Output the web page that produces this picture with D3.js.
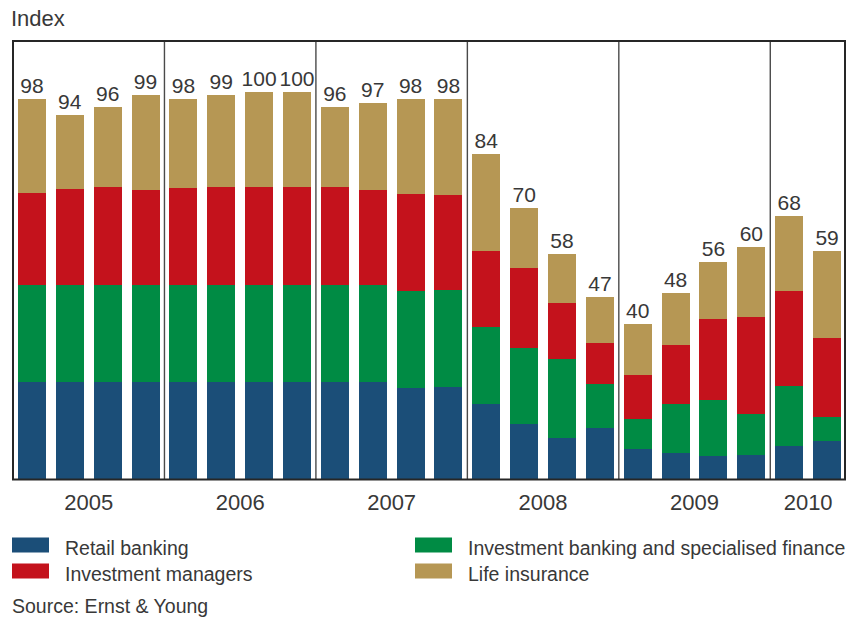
<!DOCTYPE html>
<html>
<head>
<meta charset="utf-8">
<script src="https://cdn.jsdelivr.net/npm/d3@7"></script>
<style>
  html, body { margin: 0; padding: 0; background: #ffffff; }
  svg { display: block; }
  text { font-family: "Liberation Sans", Arial, Helvetica, sans-serif; fill: #383838; }
</style>
</head>
<body>
<svg id="chart" width="850" height="619"></svg>
<script>
// Quarterly index by sector, 2005 Q1 – 2010 Q2
const years = ["2005", "2006", "2007", "2008", "2009", "2010"];
const quarterCounts = [4, 4, 4, 4, 4, 2];
const periods = [
  "2005 Q1", "2005 Q2", "2005 Q3", "2005 Q4",
  "2006 Q1", "2006 Q2", "2006 Q3", "2006 Q4",
  "2007 Q1", "2007 Q2", "2007 Q3", "2007 Q4",
  "2008 Q1", "2008 Q2", "2008 Q3", "2008 Q4",
  "2009 Q1", "2009 Q2", "2009 Q3", "2009 Q4",
  "2010 Q1", "2010 Q2"
];
const retailBanking = [25.2, 25.2, 25.2, 25.2, 25.2, 25.2, 25.2, 25.2, 25.2, 25.2, 23.5, 23.8, 19.4, 14.3, 10.7, 13.2, 7.8, 6.8, 6.0, 6.3, 8.6, 9.9];
const investmentBanking = [24.9, 24.9, 24.9, 24.9, 24.9, 24.9, 24.9, 24.9, 24.9, 24.9, 25.0, 25.0, 19.9, 19.6, 20.3, 11.4, 7.7, 12.7, 14.4, 10.5, 15.4, 6.2];
const investmentManagers = [23.7, 24.7, 25.3, 24.5, 25.0, 25.3, 25.3, 25.2, 25.2, 24.5, 25.0, 24.5, 19.5, 20.6, 14.4, 10.5, 11.4, 15.1, 20.9, 25.0, 24.5, 20.3];
const lifeInsurance = [24.2, 19.2, 20.6, 24.4, 22.9, 23.6, 24.6, 24.7, 20.7, 22.4, 24.5, 24.7, 25.2, 15.5, 12.6, 11.9, 13.1, 13.4, 14.7, 18.2, 19.5, 22.6];
const totals = [98, 94, 96, 99, 98, 99, 100, 100, 96, 97, 98, 98, 84, 70, 58, 47, 40, 48, 56, 60, 68, 59];

const seriesKeys = ["retail", "ibsf", "managers", "life"];
const seriesNames = ["Retail banking", "Investment banking and specialised finance", "Investment managers", "Life insurance"];
const seriesColors = ["#1b4e78", "#008b44", "#c4121c", "#b69754"];

const rows = periods.map((p, i) => ({
  period: p,
  retail: retailBanking[i],
  ibsf: investmentBanking[i],
  managers: investmentManagers[i],
  life: lifeInsurance[i],
  total: totals[i]
}));

const svg = d3.select("#chart");

const plot = { left: 13, right: 845, top: 41, bottom: 479.5 };

const x = d3.scaleBand()
  .domain(periods)
  .range([plot.left, plot.right + 1])
  .paddingInner(0.26)
  .paddingOuter(0.13);

const y = d3.scaleLinear()
  .domain([0, 100])
  .range([plot.bottom, 91.5]);

const color = d3.scaleOrdinal().domain(seriesKeys).range(seriesColors);

const stacked = d3.stack().keys(seriesKeys)(rows);

// Stacked bars
svg.append("g")
  .selectAll("g")
  .data(stacked)
  .join("g")
  .attr("fill", d => color(d.key))
  .selectAll("rect")
  .data(d => d)
  .join("rect")
  .attr("x", d => x(d.data.period))
  .attr("y", d => y(d[1]))
  .attr("width", x.bandwidth())
  .attr("height", d => y(d[0]) - y(d[1]))
  .attr("shape-rendering", "crispEdges");

// Total labels above each bar
svg.append("g")
  .selectAll("text")
  .data(rows)
  .join("text")
  .attr("x", d => x(d.period) + x.bandwidth() / 2)
  .attr("y", d => y(d.total) - 6)
  .attr("text-anchor", "middle")
  .attr("font-size", 21)
  .text(d => d.total);

// Year groups: separators and labels
const gapHalf = x.step() * x.paddingInner() / 2;
let start = 0;
const groups = years.map((yr, gi) => {
  const first = periods[start];
  const last = periods[start + quarterCounts[gi] - 1];
  start += quarterCounts[gi];
  return { year: yr, x0: x(first), x1: x(last) + x.bandwidth() };
});

svg.append("g")
  .selectAll("line")
  .data(groups.slice(1))
  .join("line")
  .attr("x1", d => d.x0 - gapHalf)
  .attr("x2", d => d.x0 - gapHalf)
  .attr("y1", plot.top)
  .attr("y2", plot.bottom)
  .attr("stroke", "#4a4a4a")
  .attr("stroke-width", 1.4);

svg.append("g")
  .selectAll("text")
  .data(groups)
  .join("text")
  .attr("x", d => (d.x0 + d.x1) / 2)
  .attr("y", 510)
  .attr("text-anchor", "middle")
  .attr("font-size", 22)
  .text(d => d.year);

// Frame
svg.append("rect")
  .attr("x", plot.left)
  .attr("y", plot.top)
  .attr("width", plot.right - plot.left)
  .attr("height", plot.bottom - plot.top)
  .attr("fill", "none")
  .attr("stroke", "#262626")
  .attr("stroke-width", 2);

// Axis title
svg.append("text")
  .attr("x", 11)
  .attr("y", 26)
  .attr("font-size", 22)
  .text("Index");

// Legend (two columns)
const legendItems = [
  { key: "retail", col: 0, row: 0 },
  { key: "managers", col: 0, row: 1 },
  { key: "ibsf", col: 1, row: 0 },
  { key: "life", col: 1, row: 1 }
];
const colX = [12, 415];
const rowY = [537.5, 563.5];

const legend = svg.append("g")
  .selectAll("g")
  .data(legendItems)
  .join("g")
  .attr("transform", d => `translate(${colX[d.col]},${rowY[d.row]})`);

legend.append("rect")
  .attr("width", 37)
  .attr("height", 15)
  .attr("fill", d => color(d.key));

legend.append("text")
  .attr("x", 53)
  .attr("y", 17)
  .attr("font-size", 19.5)
  .text(d => seriesNames[seriesKeys.indexOf(d.key)]);

// Source note
svg.append("text")
  .attr("x", 12)
  .attr("y", 612.5)
  .attr("font-size", 19.5)
  .text("Source: Ernst & Young");
</script>
</body>
</html>
